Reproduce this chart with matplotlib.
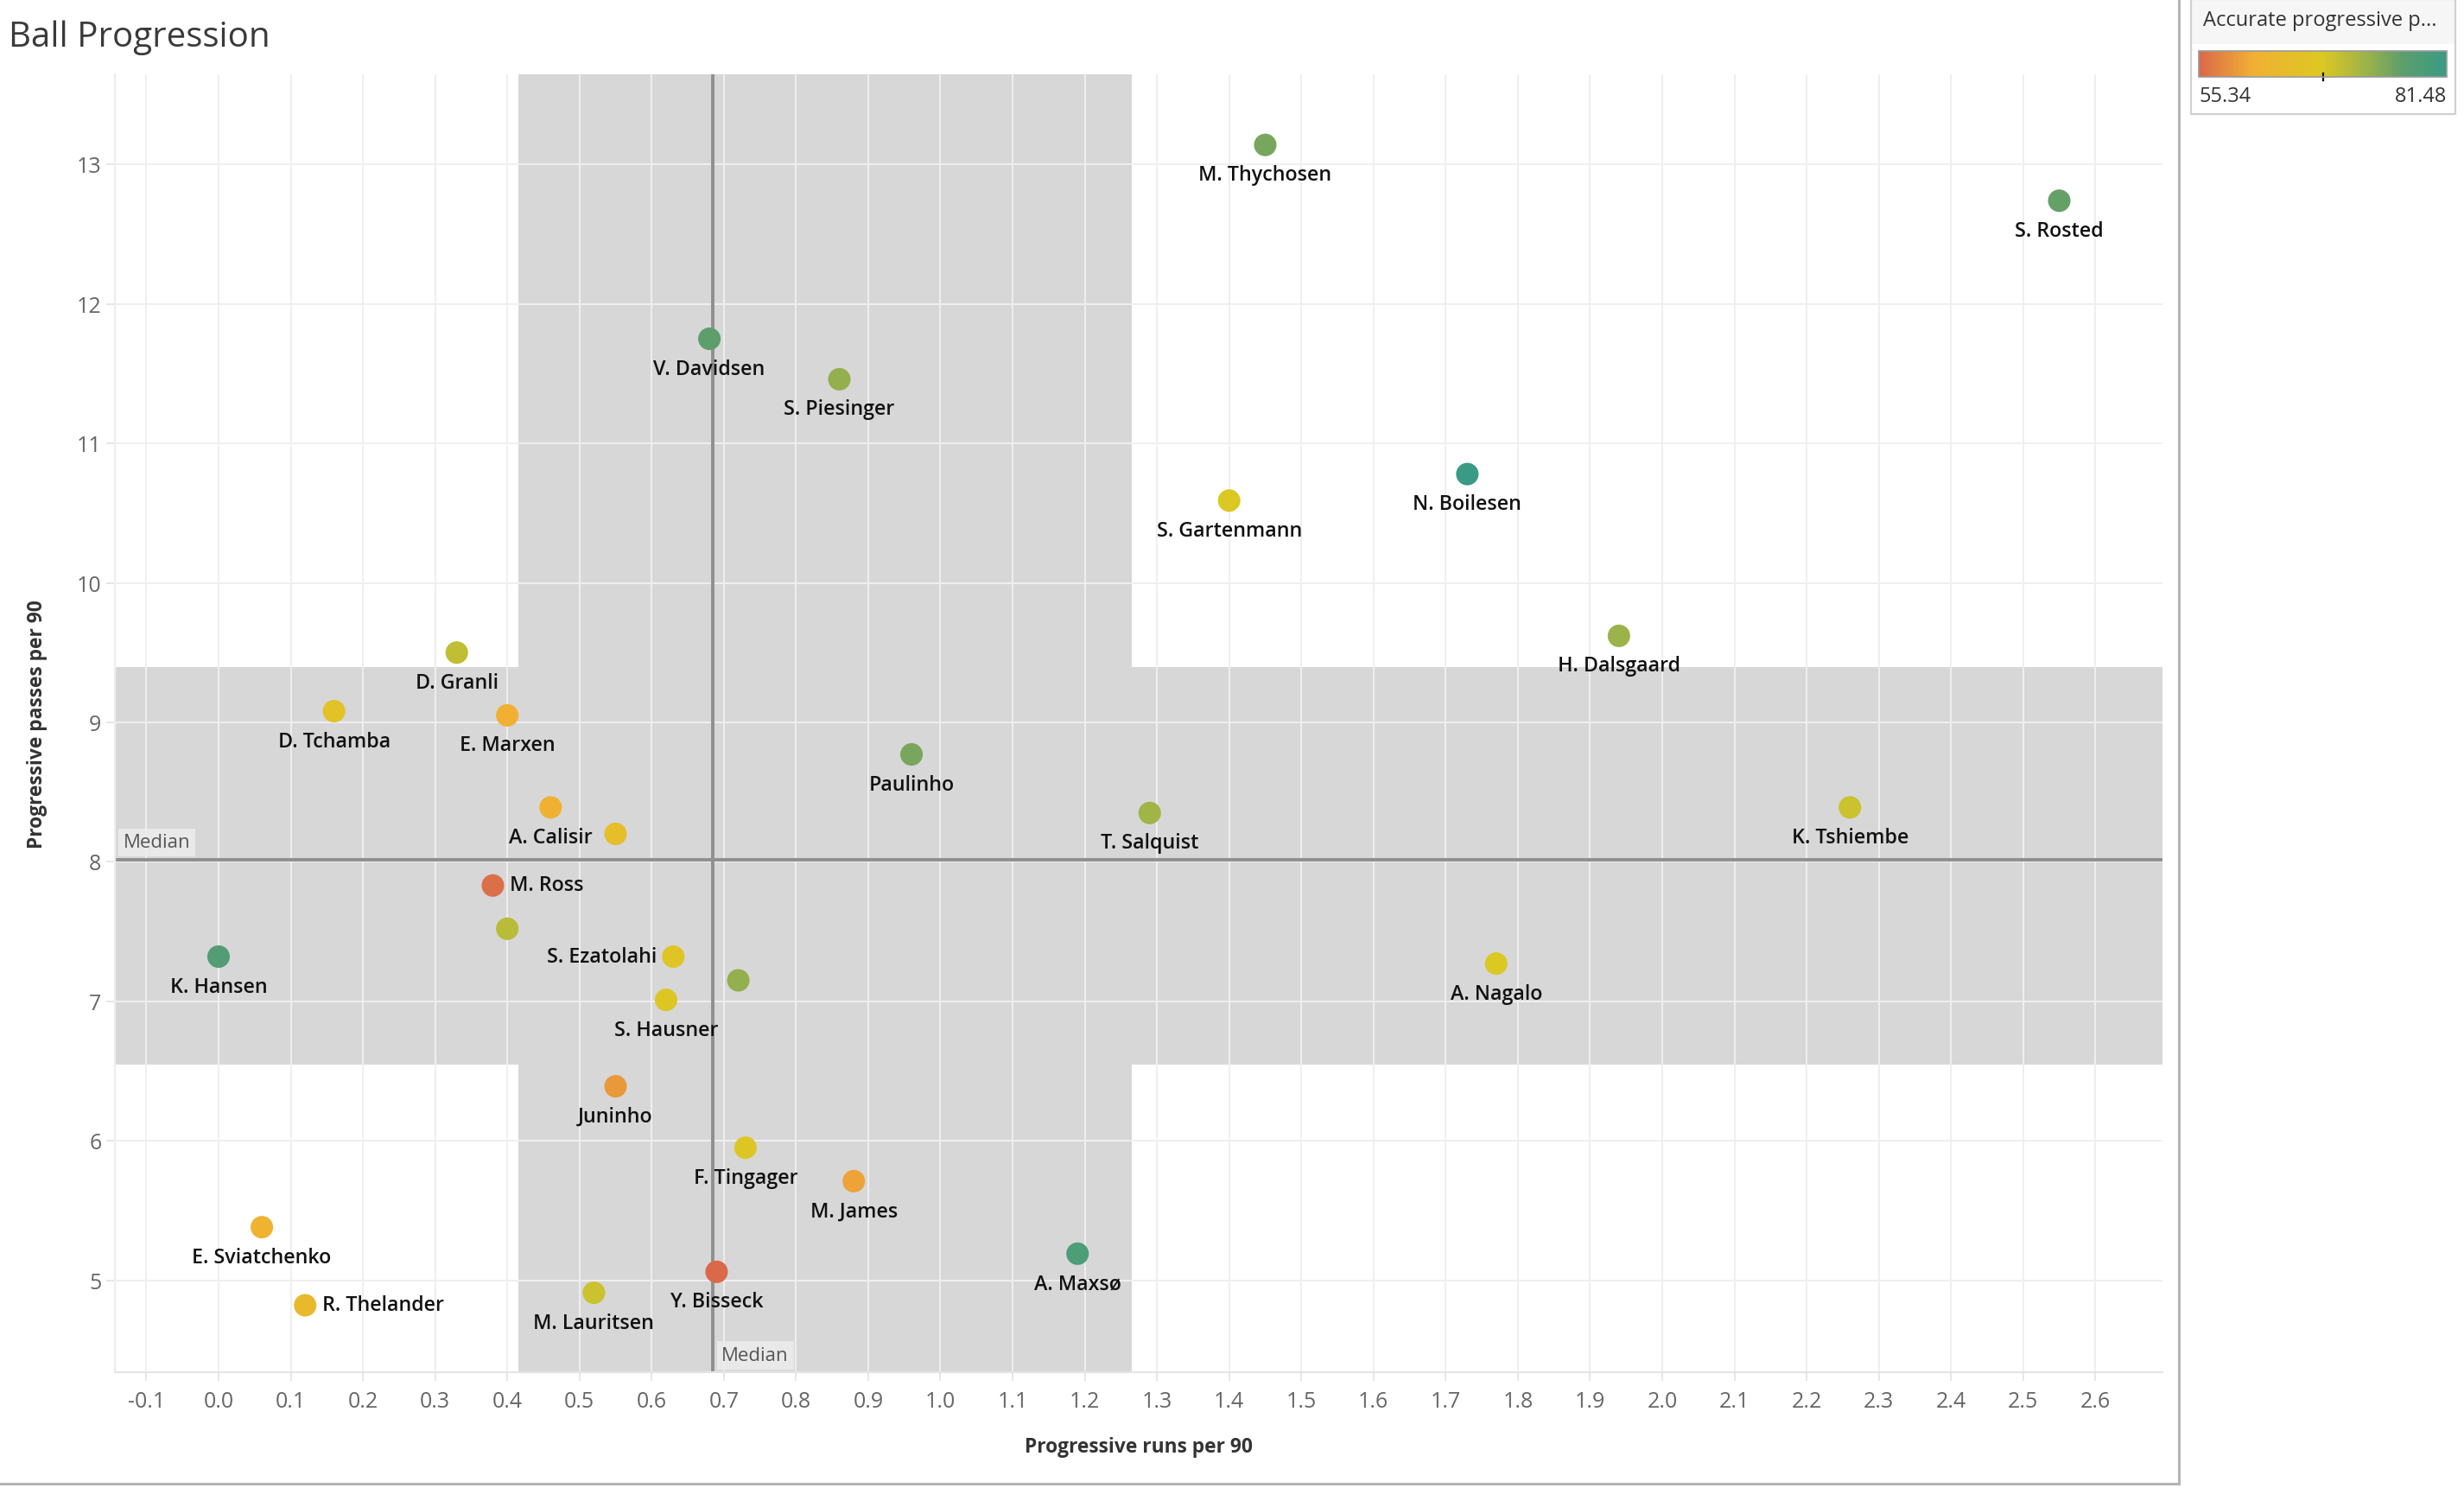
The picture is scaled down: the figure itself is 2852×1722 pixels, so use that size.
"""
Ball Progression scatter: progressive runs vs progressive passes per 90.
"""

import numpy as np
import matplotlib
matplotlib.use("Agg")
import matplotlib.pyplot as plt
from matplotlib.colors import LinearSegmentedColormap, Normalize
from matplotlib.lines import Line2D
from matplotlib.patches import Rectangle
import matplotlib.transforms as mtransforms

# ----------------------------------------------------
# Data
# ----------------------------------------------------

players = [
    "M. Thychosen", "S. Rosted", "V. Davidsen", "S. Piesinger", "N. Boilesen",
    "S. Gartenmann", "H. Dalsgaard", "D. Granli", "D. Tchamba", "E. Marxen",
    "Paulinho", "T. Salquist", "K. Tshiembe", "A. Calisir", "",
    "M. Ross", "", "K. Hansen", "S. Ezatolahi", "",
    "S. Hausner", "A. Nagalo", "Juninho", "F. Tingager", "M. James",
    "E. Sviatchenko", "A. Maxsø", "Y. Bisseck", "M. Lauritsen", "R. Thelander",
]

prog_runs = [
    1.45, 2.55, 0.68, 0.86, 1.73,
    1.40, 1.94, 0.33, 0.16, 0.40,
    0.96, 1.29, 2.26, 0.46, 0.55,
    0.38, 0.40, 0.00, 0.63, 0.72,
    0.62, 1.77, 0.55, 0.73, 0.88,
    0.06, 1.19, 0.69, 0.52, 0.12,
]

prog_passes = [
    13.14, 12.74, 11.75, 11.46, 10.78,
    10.59, 9.62, 9.50, 9.08, 9.05,
    8.77, 8.35, 8.39, 8.39, 8.20,
    7.83, 7.52, 7.32, 7.32, 7.15,
    7.01, 7.27, 6.39, 5.95, 5.71,
    5.38, 5.19, 5.06, 4.91, 4.82,
]

accurate_pct = [
    75.2, 76.3, 76.8, 73.6, 81.48,
    68.4, 73.1, 70.5, 66.6, 61.1,
    75.2, 72.6, 69.7, 61.4, 65.3,
    55.9, 71.0, 78.3, 67.6, 73.6,
    67.9, 68.4, 59.3, 67.9, 60.1,
    62.1, 78.9, 55.34, 69.7, 64.0,
]

x_ticks = [round(v, 1) for v in np.arange(-0.1, 2.65, 0.1)]
y_ticks = [5, 6, 7, 8, 9, 10, 11, 12, 13]

# labels not placed below the mark
label_side = {"M. Ross": "right", "R. Thelander": "right", "S. Ezatolahi": "left"}

# ----------------------------------------------------
# Style
# ----------------------------------------------------

cmap = LinearSegmentedColormap.from_list(
    "tab_org_gold_green",
    [
        (0.00, "#d9694a"),
        (0.22, "#f1b033"),
        (0.50, "#dcc823"),
        (0.68, "#9bb24a"),
        (0.82, "#5e9e6b"),
        (1.00, "#399b85"),
    ],
)

LABEL_FONT = ["Open Sans", "DejaVu Sans"]
BAND = "#d7d7d7"

x = np.array(prog_runs)
y = np.array(prog_passes)

x_med = np.median(x)
y_med = np.median(y)
x_q1, x_q3 = np.percentile(x, [25, 75])
y_q1, y_q3 = np.percentile(y, [25, 75])

fig = plt.figure(figsize=(14.26, 8.613), dpi=200)
ax = fig.add_axes([0.04663, 0.07777, 0.83100, 0.87174])

ax.set_xlim(-0.1436, 2.693)
ax.set_ylim(4.34, 13.644)

# ----------------------------------------------------
# Quartile bands and medians
# ----------------------------------------------------

ax.axvspan(x_q1, x_q3, color=BAND, lw=0, zorder=0)
ax.axhspan(y_q1, y_q3, color=BAND, lw=0, zorder=0)

ax.set_xticks(x_ticks)
ax.set_xticklabels([f"{v:.1f}" for v in x_ticks])
ax.set_yticks(y_ticks)
ax.grid(True, color="#efefef", lw=0.7, zorder=1)
ax.set_axisbelow(True)

ax.axvline(x_med, color="#8f8f8f", lw=1.4, zorder=2)
ax.axhline(y_med, color="#8f8f8f", lw=1.4, zorder=2)

med_box = dict(facecolor="#ececec", edgecolor="none", pad=2.0, alpha=0.9)
ax.text(
    0.004, y_med + 0.06, "Median",
    transform=mtransforms.blended_transform_factory(ax.transAxes, ax.transData),
    ha="left", va="bottom", fontsize=8, color="#555555",
    family=LABEL_FONT, bbox=med_box, zorder=3,
)
ax.text(
    x_med + 0.012, 0.006, "Median",
    transform=mtransforms.blended_transform_factory(ax.transData, ax.transAxes),
    ha="left", va="bottom", fontsize=8, color="#555555",
    family=LABEL_FONT, bbox=med_box, zorder=3,
)

# ----------------------------------------------------
# Points and labels
# ----------------------------------------------------

norm = Normalize(vmin=min(accurate_pct), vmax=max(accurate_pct))

sc = ax.scatter(
    x, y, c=accurate_pct, cmap=cmap, norm=norm,
    s=88, edgecolors="none", zorder=4,
)

for name, px, py in zip(players, x, y):
    if not name:
        continue
    side = label_side.get(name, "below")
    if side == "right":
        off, ha = (7.2, 0), "left"
    elif side == "left":
        off, ha = (-7.0, 0), "right"
    else:
        off, ha = (0, -12.6), "center"
    ax.annotate(
        name, (px, py), xytext=off, textcoords="offset points",
        ha=ha, va="center", fontsize=8.4, color="#111111",
        family=LABEL_FONT, weight="semibold", zorder=5,
    )

# ----------------------------------------------------
# Axes
# ----------------------------------------------------

for side in ["top", "right"]:
    ax.spines[side].set_visible(False)
ax.spines["bottom"].set_color("#e4e4e4")
ax.spines["left"].set_color("#eeeeee")

ax.tick_params(axis="both", colors="#e2e2e2", labelcolor="#666666",
               labelsize=9, length=3.6, width=0.6)
ax.tick_params(axis="x", pad=4)
ax.tick_params(axis="y", pad=2)
for lbl in ax.get_xticklabels() + ax.get_yticklabels():
    lbl.set_family(LABEL_FONT)

ax.set_xlabel("Progressive runs per 90", fontsize=8.2, weight="bold",
              color="#333333", family=LABEL_FONT, labelpad=10)
ax.set_ylabel("Progressive passes per 90", fontsize=8.2, weight="bold",
              color="#333333", family=LABEL_FONT, labelpad=12)

fig.text(0.0035, 1 - 44 / 1723, "Ball Progression", fontsize=14.5,
         color="#3a3a3a", family=LABEL_FONT, weight="normal",
         va="center", ha="left")

# ----------------------------------------------------
# Sheet border and colour legend
# ----------------------------------------------------

fig.add_artist(Line2D([0.88429, 0.88429], [0.0029, 1.0],
                      color="#b4b4b4", lw=1.1))
fig.add_artist(Line2D([0.0, 0.88429], [0.0029, 0.0029],
                      color="#b4b4b4", lw=1.1))

fig.add_artist(Rectangle((0.8892, 0.96982), 0.10729, 0.03018,
                         facecolor="#f6f6f6", edgecolor="none"))
fig.add_artist(Rectangle((0.8892, 0.92281), 0.10729, 0.0772,
                         facecolor="none", edgecolor="#d0d0d0", lw=0.8))
fig.text(0.8941, 1 - 24 / 1723, "Accurate progressive p...",
         fontsize=8.5, color="#333333", family=LABEL_FONT,
         ha="left", va="center")

cax = fig.add_axes([0.89236, 0.94777, 0.10063, 0.01741])
cbar = fig.colorbar(sc, cax=cax, orientation="horizontal")
cbar.set_ticks([])
cbar.outline.set_edgecolor("#9a9a9a")
cbar.outline.set_linewidth(0.6)
mid = (norm.vmin + norm.vmax) / 2
cax.plot([mid, mid], [-0.12, 0.15], color="black", lw=0.8,
         transform=mtransforms.blended_transform_factory(cax.transData, cax.transAxes),
         clip_on=False)

fig.text(0.89236, 1 - 112 / 1723, f"{norm.vmin:.2f}", fontsize=8.5,
         color="#333333", family=LABEL_FONT, ha="left", va="center")
fig.text(0.99299, 1 - 112 / 1723, f"{norm.vmax:.2f}", fontsize=8.5,
         color="#333333", family=LABEL_FONT, ha="right", va="center")

fig.savefig("out.png", dpi=200)
plt.close(fig)
